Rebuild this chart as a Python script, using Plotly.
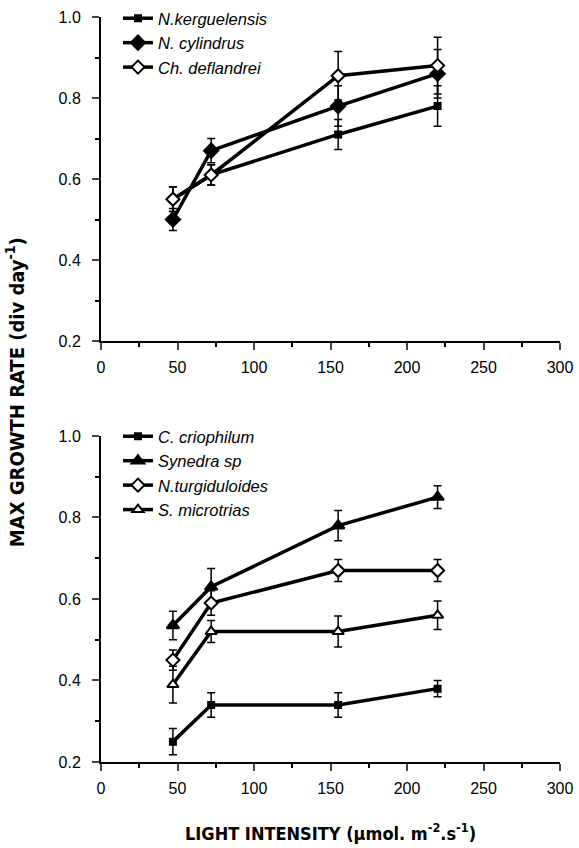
import plotly.graph_objects as go
from plotly.subplots import make_subplots

light = [47, 72, 155, 220]

# top panel
kerg = [0.55, 0.61, 0.71, 0.78]
kerg_err = [0.03, 0.025, 0.037, 0.05]
cyl = [0.50, 0.67, 0.78, 0.86]
cyl_err = [0.027, 0.03, 0.05, 0.06]
defl = [0.55, 0.61, 0.855, 0.88]
defl_err = [0.03, 0.025, 0.06, 0.07]

# bottom panel
crio = [0.25, 0.34, 0.34, 0.38]
crio_err = [0.032, 0.03, 0.03, 0.02]
syn = [0.535, 0.63, 0.78, 0.85]
syn_err = [0.035, 0.045, 0.037, 0.028]
turg = [0.45, 0.59, 0.67, 0.67]
turg_err = [0.025, 0.03, 0.027, 0.027]
micro = [0.39, 0.52, 0.52, 0.56]
micro_err = [0.045, 0.027, 0.038, 0.035]

x_ticks = [0, 50, 100, 150, 200, 250, 300]
y_ticks = [0.2, 0.4, 0.6, 0.8, 1.0]

fig = make_subplots(rows=2, cols=1)

def add(name, y, err, symbol, size, fill, row, legend):
    fig.add_trace(go.Scatter(
        x=light, y=y, name=name, mode="lines+markers",
        line=dict(color="black", width=3.5),
        marker=dict(symbol=symbol, size=size, color=fill,
                    line=dict(color="black", width=2)),
        error_y=dict(type="data", array=err, color="black", thickness=1.5, width=4),
        legend=legend, cliponaxis=False,
    ), row=row, col=1)

add("N.kerguelensis", kerg, kerg_err, "square", 6, "black", 1, "legend")
add("N. cylindrus", cyl, cyl_err, "diamond", 11, "black", 1, "legend")
add("Ch. deflandrei", defl, defl_err, "diamond", 10, "white", 1, "legend")

add("C. criophilum", crio, crio_err, "square", 6, "black", 2, "legend2")
add("Synedra sp", syn, syn_err, "triangle-up", 11, "black", 2, "legend2")
add("N.turgiduloides", turg, turg_err, "diamond", 10, "white", 2, "legend2")
add("S. microtrias", micro, micro_err, "triangle-up", 10, "white", 2, "legend2")

tickfont = dict(family="Liberation Sans, Arial, sans-serif", size=16, color="black")
for r in (1, 2):
    fig.update_xaxes(range=[0, 300], tickvals=x_ticks, showline=True, linewidth=2,
                     linecolor="black", ticks="outside", ticklen=7, tickwidth=2,
                     minor=dict(dtick=25, tick0=0, ticks="outside", ticklen=4, tickwidth=1.5,
                                tickcolor="black"),
                     ticklabelstandoff=4,
                     showgrid=False, zeroline=False, tickfont=tickfont, row=r, col=1)
    fig.update_yaxes(range=[0.2, 1.0], tickvals=y_ticks, tickformat=".1f", showline=True,
                     linewidth=2, linecolor="black", ticks="outside", ticklen=7, tickwidth=2,
                     minor=dict(dtick=0.1, tick0=0.2, ticks="outside", ticklen=4, tickwidth=1.5,
                                tickcolor="black"),
                     ticklabelstandoff=8,
                     showgrid=False, zeroline=False, tickfont=tickfont, row=r, col=1)

fig.update_layout(
    xaxis=dict(domain=[0, 1]), yaxis=dict(domain=[0.5651, 1.0]),
    xaxis2=dict(domain=[0, 1]), yaxis2=dict(domain=[0.0, 0.4376]),
)

legfont = dict(family="Liberation Sans, Arial, sans-serif", size=16.5, color="black", style="italic")
xtitlefont = dict(family="DejaVu Sans Condensed, Liberation Sans Narrow, sans-serif", size=18,
                  color="black", weight="bold")
ytitlefont = dict(family="DejaVu Sans Condensed, Liberation Sans Narrow, sans-serif", size=20,
                  color="black", weight="bold")
fig.update_layout(
    width=579, height=848,
    margin=dict(l=101, r=19, t=17, b=86, autoexpand=False),
    paper_bgcolor="white", plot_bgcolor="white",
    legend=dict(x=0.037, y=1.0215, xanchor="left", yanchor="top", font=legfont,
                bgcolor="rgba(0,0,0,0)", borderwidth=0, tracegroupgap=0),
    legend2=dict(x=0.037, y=0.4604, xanchor="left", yanchor="top", font=legfont,
                 bgcolor="rgba(0,0,0,0)", borderwidth=0, tracegroupgap=0),
    annotations=[
        dict(text="MAX GROWTH RATE (div day<sup>-1</sup>)", xref="paper", yref="paper",
             x=-0.187, y=0.4966, xanchor="center", yanchor="middle", textangle=-90,
             showarrow=False, font=ytitlefont),
        dict(text="LIGHT INTENSITY (μmol. m<sup>-2</sup>.s<sup>-1</sup>)", xref="paper", yref="paper",
             x=0.499, y=-0.094, xanchor="center", yanchor="middle",
             showarrow=False, font=xtitlefont),
    ],
)

fig.write_html("out.html")
